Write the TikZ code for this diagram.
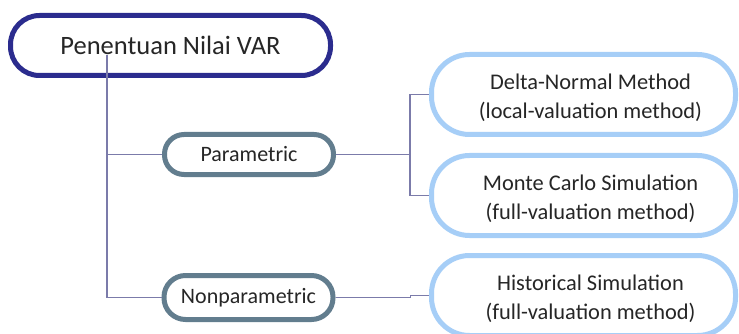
\documentclass[tikz,border=0pt]{standalone}
\usepackage{fontspec}
\setmainfont{Carlito}
\definecolor{rootblue}{HTML}{2B2C8E}
\definecolor{catgray}{HTML}{627D8E}
\definecolor{methblue}{HTML}{A6CEF7}
\definecolor{linkpurple}{HTML}{7B7BAA}
\definecolor{txtgray}{HTML}{262626}

\begin{document}
\begin{tikzpicture}[x=1pt,y=-1pt,
  rootbox/.style={draw=rootblue,line width=5pt,fill=white,rounded corners=29pt,
    minimum width=320pt,minimum height=60pt,inner sep=0pt,text=txtgray,
    font=\fontsize{26.5}{30}\selectfont},
  catbox/.style={draw=catgray,line width=5pt,fill=white,rounded corners=19.5pt,
    minimum width=169pt,minimum height=40pt,inner sep=0pt,text=txtgray,
    font=\fontsize{22}{26}\selectfont},
  methbox/.style={draw=methblue,line width=5pt,fill=white,rounded corners=38pt,
    minimum width=304pt,minimum height=80pt,inner sep=0pt},
  methtext/.style={align=center,inner sep=0pt,text=txtgray,
    font=\fontsize{22.4}{29.5}\selectfont},
  link/.style={draw=linkpurple,line width=1.6pt}]
\useasboundingbox (0,0) rectangle (739,334);

% root
\node[rootbox] (root) at (170.5,45.5) {Penentuan Nilai VAR};
\coordinate (trunk) at (107,55);

% categories
\node[catbox] (par) at (249,154.5) {Parametric};
\node[catbox,minimum height=44pt,rounded corners=21.5pt] (np) at (248.5,297.5) {Nonparametric};

% methods
\node[methbox] (delta) at (583.5,94.5) {};
\node[methtext] (deltatext) at ([shift={(7,3.5)}]delta.center)
  {Delta-Normal Method\\(local-valuation method)};
\node[methbox] (mc) at (583.5,195.5) {};
\node[methtext] (mctext) at ([shift={(7,3.5)}]mc.center)
  {Monte Carlo Simulation\\(full-valuation method)};
\node[methbox] (hist) at (583.5,295.5) {};
\node[methtext] (histtext) at ([shift={(7,3.5)}]hist.center)
  {Historical Simulation\\(full-valuation method)};

% connectors
\draw[link] (trunk) |- (par.west);
\draw[link] (trunk) |- (np.west);
\draw[link] (par.east) -- ++(74,0) coordinate (fork) |- (delta.west);
\draw[link] (fork) |- (mc.west);
\draw[link] (np.east) -- ++(75,0) |- (hist.west);
\end{tikzpicture}
\end{document}
